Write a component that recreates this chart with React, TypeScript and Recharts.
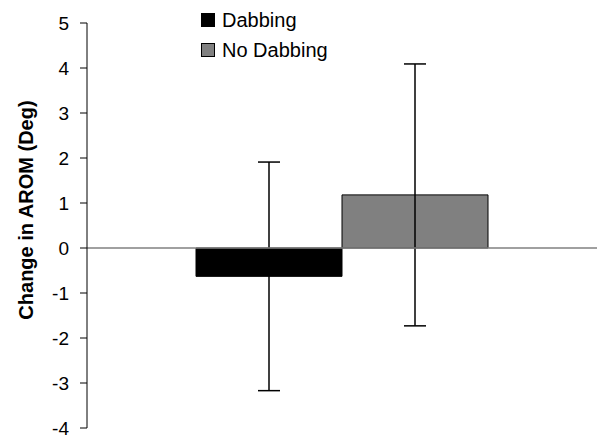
import React from "react";
import {
  BarChart,
  Bar,
  XAxis,
  YAxis,
  ErrorBar,
  ReferenceLine,
  Legend,
} from "recharts";

const categories = ["AROM"];
const dabbingMean = [-0.63];
const dabbingErr = [2.54];
const noDabbingMean = [1.18];
const noDabbingErr = [2.91];
const yTicks = [-4, -3, -2, -1, 0, 1, 2, 3, 4, 5];

const data = categories.map((c, i) => ({
  name: c,
  dabbing: dabbingMean[i],
  dabbingErr: dabbingErr[i],
  noDabbing: noDabbingMean[i],
  noDabbingErr: noDabbingErr[i],
}));

const FONT = "'Liberation Sans', Arial, sans-serif";

// legend drawn as two stacked rows with square swatches
const LegendBox = ({ payload }: { payload?: Array<{ value: string; color: string }> }) => (
  <div style={{ fontFamily: FONT, fontSize: 20, color: "#000" }}>
    {(payload || []).map((p) => (
      <div key={p.value} style={{ display: "flex", alignItems: "center", height: 30 }}>
        <span
          style={{
            display: "inline-block",
            width: 12,
            height: 12,
            background: p.color,
            border: "1px solid #000",
            marginRight: 7,
          }}
        />
        <span>{p.value}</span>
      </div>
    ))}
  </div>
);

export default function App() {
  return (
    <div style={{ position: "absolute", left: 0, top: 0, background: "#fff" }}>
      <BarChart
        width={600}
        height={438}
        data={data}
        margin={{ top: 23, right: 3, bottom: 10, left: 0 }}
        barCategoryGap={109}
        barGap={0}
      >
        <XAxis dataKey="name" hide />
        <YAxis
          width={87}
          domain={[-4, 5]}
          ticks={yTicks}
          interval={0}
          tickSize={7}
          tickMargin={11}
          axisLine={{ stroke: "#000" }}
          tickLine={{ stroke: "#000" }}
          tick={{ fill: "#000", fontSize: 19, fontFamily: FONT }}
          label={{
            content: () => (
              <text
                x={26}
                y={210}
                transform="rotate(-90 26 210)"
                textAnchor="middle"
                dominantBaseline="central"
                fontFamily={FONT}
                fontSize={20}
                fontWeight="bold"
                fill="#000"
              >
                Change in AROM (Deg)
              </text>
            ),
          }}
        />
        <Legend
          layout="vertical"
          align="center"
          verticalAlign="middle"
          wrapperStyle={{ top: 5, left: 201, width: "auto" }}
          content={<LegendBox />}
        />
        <Bar dataKey="dabbing" name="Dabbing" fill="#000" stroke="#000" isAnimationActive={false}>
          <ErrorBar dataKey="dabbingErr" width={11} stroke="#000" strokeWidth={1.5} />
        </Bar>
        <Bar dataKey="noDabbing" name="No Dabbing" fill="#808080" stroke="#000" isAnimationActive={false}>
          <ErrorBar dataKey="noDabbingErr" width={11} stroke="#000" strokeWidth={1.5} />
        </Bar>
        <ReferenceLine y={0} stroke="#808080" strokeWidth={1.5} />
      </BarChart>
    </div>
  );
}
